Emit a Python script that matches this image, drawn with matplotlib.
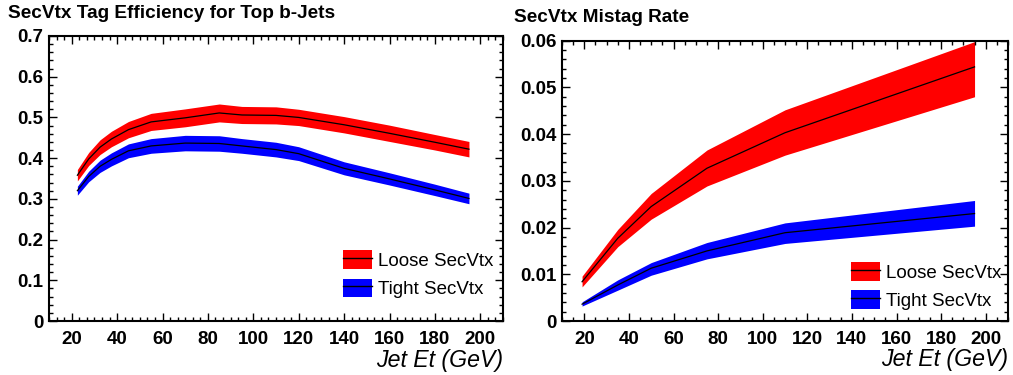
import matplotlib
matplotlib.use('Agg')
import matplotlib.pyplot as plt
from matplotlib.patches import Patch
from matplotlib.lines import Line2D
from matplotlib.ticker import MultipleLocator, FuncFormatter

plt.rcParams['font.family'] = ['Liberation Sans', 'DejaVu Sans']

# b-jet tag efficiency vs jet Et
eff_et = [22.5, 27.5, 32.5, 37.5, 45, 55, 70, 85, 95, 110, 120, 140, 160, 180, 195]
eff_loose = [0.358, 0.398, 0.427, 0.447, 0.470, 0.489, 0.499, 0.511, 0.506, 0.505, 0.500, 0.482, 0.461, 0.439, 0.422]
eff_loose_err = [0.014, 0.016, 0.018, 0.019, 0.020, 0.021, 0.022, 0.022, 0.021, 0.021, 0.020, 0.020, 0.020, 0.019, 0.019]
eff_tight = [0.320, 0.355, 0.380, 0.397, 0.418, 0.430, 0.437, 0.436, 0.430, 0.421, 0.411, 0.375, 0.349, 0.322, 0.301]
eff_tight_err = [0.011, 0.013, 0.015, 0.016, 0.017, 0.018, 0.019, 0.019, 0.018, 0.018, 0.017, 0.016, 0.015, 0.014, 0.013]

# mistag rate vs jet Et
mis_et = [19, 35, 50, 75, 110, 195]
mis_loose = [0.0084, 0.0177, 0.0245, 0.0327, 0.0403, 0.0544]
mis_loose_lo = [0.0073, 0.0159, 0.0218, 0.0289, 0.0355, 0.0480]
mis_loose_hi = [0.0096, 0.0196, 0.0273, 0.0366, 0.0452, 0.0598]
mis_tight = [0.0036, 0.0077, 0.0113, 0.0150, 0.0189, 0.0230]
mis_tight_lo = [0.0032, 0.0066, 0.0098, 0.0133, 0.0166, 0.0203]
mis_tight_hi = [0.0041, 0.0088, 0.0125, 0.0168, 0.0210, 0.0258]

legend_labels = ['Loose SecVtx', 'Tight SecVtx']
RED = '#ff0000'
BLUE = '#0000ff'
FS = 13.5

fig = plt.figure(figsize=(10.13, 3.75), dpi=100)
ax1 = fig.add_axes([49 / 1013, 54 / 375, 454 / 1013, 285 / 375])
ax2 = fig.add_axes([562 / 1013, 54 / 375, 446 / 1013, 280.3 / 375])


def style_axis(ax, ymax, ymajor, yminor, xminor):
    ax.set_xlim(10, 210)
    ax.set_ylim(0, ymax)
    ax.xaxis.set_major_locator(MultipleLocator(20))
    ax.xaxis.set_minor_locator(MultipleLocator(xminor))
    ax.yaxis.set_major_locator(MultipleLocator(ymajor))
    ax.yaxis.set_minor_locator(MultipleLocator(yminor))
    ax.yaxis.set_major_formatter(FuncFormatter(lambda v, p: '{:g}'.format(round(v, 4))))
    ax.tick_params(which='both', direction='in', top=True, right=True, width=1)
    ax.tick_params(which='major', length=6)
    ax.tick_params(which='minor', length=3)
    ax.tick_params(axis='x', which='major', pad=7, labelsize=FS)
    ax.tick_params(axis='y', which='major', pad=4, labelsize=FS)
    for lab in ax.get_xticklabels() + ax.get_yticklabels():
        lab.set_fontweight('bold')
    for sp in ax.spines.values():
        sp.set_linewidth(1.5)
    ax.set_xlabel('Jet Et (GeV)', fontsize=16.7, style='italic', loc='right')
    ax.xaxis.set_label_coords(1.0, -0.098)


def add_legend(ax, anchor):
    handles = [(Patch(color=RED, lw=0), Line2D([], [], color='black', lw=1)),
               (Patch(color=BLUE, lw=0), Line2D([], [], color='black', lw=1))]
    ax.legend(handles, legend_labels, loc='lower right', bbox_to_anchor=anchor,
              frameon=False, fontsize=FS, handlelength=1.55, handleheight=1.15,
              handletextpad=0.3, labelspacing=0.45, borderpad=0, borderaxespad=0)


# efficiency bands
lo = [v - e for v, e in zip(eff_loose, eff_loose_err)]
hi = [v + e for v, e in zip(eff_loose, eff_loose_err)]
ax1.fill_between(eff_et, lo, hi, color=RED, lw=0)
ax1.plot(eff_et, eff_loose, color='black', lw=0.9)
lo = [v - e for v, e in zip(eff_tight, eff_tight_err)]
hi = [v + e for v, e in zip(eff_tight, eff_tight_err)]
ax1.fill_between(eff_et, lo, hi, color=BLUE, lw=0)
ax1.plot(eff_et, eff_tight, color='black', lw=0.9)
style_axis(ax1, 0.7, 0.1, 0.02, 20 / 6)
add_legend(ax1, (0.978, 0.08))

# mistag bands
ax2.fill_between(mis_et, mis_loose_lo, mis_loose_hi, color=RED, lw=0)
ax2.plot(mis_et, mis_loose, color='black', lw=0.9)
ax2.fill_between(mis_et, mis_tight_lo, mis_tight_hi, color=BLUE, lw=0)
ax2.plot(mis_et, mis_tight, color='black', lw=0.9)
style_axis(ax2, 0.06, 0.01, 0.002, 5)
add_legend(ax2, (0.985, 0.04))

fig.text(8 / 1013, 1 - 13.5 / 375, 'SecVtx Tag Efficiency for Top b-Jets',
         fontsize=13.7, fontweight='bold', va='center', ha='left')
fig.text(514 / 1013, 1 - 17.5 / 375, 'SecVtx Mistag Rate',
         fontsize=13.7, fontweight='bold', va='center', ha='left')

fig.savefig('out.png', dpi=100)
